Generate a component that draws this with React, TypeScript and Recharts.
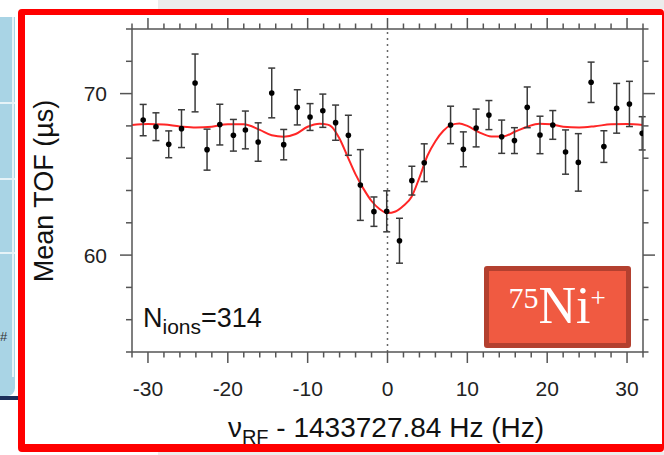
import React from 'react';
import { ComposedChart, Scatter, Line, XAxis, YAxis, ErrorBar, ReferenceLine } from 'recharts';

// measured points: frequency offset (Hz), mean TOF (us), error (us)
const freq = [-30.6, -29.0, -27.4, -25.8, -24.1, -22.6, -21.0, -19.3, -17.8, -16.2, -14.5, -13.0, -11.3, -9.7, -8.1, -6.5, -4.9, -3.4, -1.7, -0.1, 1.5, 3.05, 4.6, 7.9, 9.5, 11.1, 12.7, 14.3, 15.9, 17.5, 19.1, 20.7, 22.3, 23.9, 25.5, 27.1, 28.7, 30.3, 31.9];
const tof = [68.36, 67.95, 66.86, 67.83, 70.66, 66.53, 68.08, 67.42, 67.75, 67.0, 70.04, 66.84, 69.15, 68.55, 68.94, 68.2, 67.42, 64.34, 62.69, 62.71, 60.89, 64.61, 65.72, 68.06, 66.55, 67.87, 68.67, 67.33, 67.09, 69.15, 67.44, 68.06, 66.38, 65.74, 70.7, 66.72, 69.09, 69.36, 67.54];
const tofErr = [0.97, 0.86, 0.83, 1.17, 1.79, 1.27, 1.26, 0.98, 1.17, 1.19, 1.54, 0.94, 1.09, 0.83, 1.03, 1.09, 1.24, 2.19, 0.91, 1.27, 1.39, 0.89, 1.17, 1.16, 1.08, 1.17, 0.9, 1.03, 0.8, 1.26, 1.16, 0.89, 1.37, 1.78, 1.25, 0.98, 1.54, 1.4, 1.03];

// fitted resonance curve
const fitFreq = [-32, -30, -28, -26, -24, -22, -20, -18, -16, -14.5, -13, -11.5, -10, -8.5, -7.5, -7, -6, -5, -4, -3, -2, -1, 0, 1, 2, 3, 4, 5, 6, 7, 8, 9, 10, 11.5, 13, 14.5, 16, 17.5, 19, 20.5, 22, 24, 26, 28, 30, 32];
const fitTof = [68.06, 68.12, 68.08, 67.97, 67.9, 67.95, 68.1, 68.1, 67.75, 67.42, 67.33, 67.5, 67.95, 68.14, 68.08, 67.95, 67.2, 66.1, 65.0, 64.1, 63.35, 62.85, 62.6, 62.7, 63.05, 63.6, 64.8, 66.15, 67.05, 67.7, 68.06, 68.15, 68.0, 67.6, 67.35, 67.35, 67.65, 67.95, 68.14, 68.1, 67.95, 67.9, 67.98, 68.1, 68.12, 68.06];

const xTicks = [-32, -30, -28, -26, -24, -22, -20, -18, -16, -14, -12, -10, -8, -6, -4, -2, 0, 2, 4, 6, 8, 10, 12, 14, 16, 18, 20, 22, 24, 26, 28, 30, 32];
const yTicks = [54, 56, 58, 60, 62, 64, 66, 68, 70, 72, 74];
const xLabels = [-30, -20, -10, 0, 10, 20, 30];
const yLabels = [60, 70];

const points = freq.map((x, i) => ({ x, y: tof[i], err: tofErr[i] }));
const fit = fitFreq.map((x, i) => ({ x, y: fitTof[i] }));

const AXIS = '#555';
const FONT = '"Liberation Sans", Arial, sans-serif';

const BottomTick = ({ x, y, payload }: any) => {
  const major = payload.value % 10 === 0;
  return (
    <g>
      <line x1={x} x2={x} y1={y} y2={y + (major ? 11 : 5.5)} stroke={AXIS} strokeWidth={1.5} />
      {xLabels.includes(payload.value) && (
        <text x={x} y={y + 44} textAnchor="middle" fontSize={21} fill="#222" fontFamily={FONT}>
          {payload.value}
        </text>
      )}
    </g>
  );
};

const TopTick = ({ x, y, payload }: any) => {
  const major = payload.value % 10 === 0;
  return <line x1={x} x2={x} y1={y} y2={y - (major ? 11 : 5.5)} stroke={AXIS} strokeWidth={1.5} />;
};

const LeftTick = ({ x, y, payload }: any) => {
  const major = payload.value % 10 === 0;
  return (
    <g>
      <line x1={x} x2={x - (major ? 12 : 6)} y1={y} y2={y} stroke={AXIS} strokeWidth={1.5} />
      {yLabels.includes(payload.value) && (
        <text x={x - 25} y={y + 7.5} textAnchor="end" fontSize={21} fill="#222" fontFamily={FONT}>
          {payload.value}
        </text>
      )}
    </g>
  );
};

const RightTick = ({ x, y, payload }: any) => {
  const major = payload.value % 10 === 0;
  return <line x1={x} x2={x + (major ? 12 : 5.5)} y1={y} y2={y} stroke={AXIS} strokeWidth={1.5} />;
};

const Dot = (p: any) => <circle cx={p.cx} cy={p.cy} r={2.8} fill="#000" />;

const axisLine = { stroke: AXIS, strokeWidth: 1.5 };

export default function App() {
  return (
    <div style={{ position: 'relative', width: 664, height: 455, background: '#fff', overflow: 'hidden' }}>
      <style>{'body{margin:0}'}</style>

      {/* slide leftovers around the frame */}
      <div style={{ position: 'absolute', left: 158, top: 0, width: 506, height: 9, background: '#ececec' }} />
      <div style={{ position: 'absolute', left: 158, top: 452, width: 506, height: 3, background: '#ececec' }} />
      <div style={{ position: 'absolute', left: 0, top: 17, width: 15, height: 379, background: '#a9d4e5', borderBottomRightRadius: 8 }} />
      <div style={{ position: 'absolute', left: 12, top: 17, width: 2, height: 360, background: '#e6f3f8' }} />
      {[102, 178, 252].map(t => (
        <div key={t} style={{ position: 'absolute', left: 0, top: t, width: 15, height: 2, background: '#e6f3f8' }} />
      ))}
      <div style={{ position: 'absolute', left: 0, top: 329, fontSize: 13, fontFamily: FONT, color: '#333' }}>#</div>
      <div style={{ position: 'absolute', left: 0, top: 396, width: 24, height: 4, background: '#1d2f5a' }} />

      <div style={{ position: 'absolute', left: 0, top: 0 }}>
        <ComposedChart width={664} height={455} margin={{ top: 14, right: 6, bottom: 43, left: 32 }}>
          <XAxis xAxisId="b" type="number" dataKey="x" domain={[-32, 32]} ticks={xTicks} interval={0}
            tick={<BottomTick />} tickLine={false} tickSize={0} tickMargin={0} axisLine={axisLine} height={60} allowDataOverflow />
          <XAxis xAxisId="t" orientation="top" type="number" dataKey="x" domain={[-32, 32]} ticks={xTicks} interval={0}
            tick={<TopTick />} tickLine={false} tickSize={0} tickMargin={0} axisLine={axisLine} height={15} allowDataOverflow />
          <YAxis yAxisId="l" type="number" dataKey="y" domain={[54, 74]} ticks={yTicks} interval={0}
            tick={<LeftTick />} tickLine={false} tickSize={0} tickMargin={0} axisLine={axisLine} width={100} allowDataOverflow />
          <YAxis yAxisId="r" orientation="right" type="number" dataKey="y" domain={[54, 74]} ticks={yTicks} interval={0}
            tick={<RightTick />} tickLine={false} tickSize={0} tickMargin={0} axisLine={axisLine} width={15} allowDataOverflow />
          <ReferenceLine xAxisId="b" yAxisId="l" x={0} stroke="#666" strokeWidth={1.5} strokeDasharray="2 4" />
          <Line xAxisId="b" yAxisId="l" data={fit} dataKey="y" type="monotone" stroke="#ff2626" strokeWidth={2}
            dot={false} activeDot={false} isAnimationActive={false} />
          <Scatter xAxisId="b" yAxisId="l" data={points} dataKey="y" fill="#000" shape={Dot} isAnimationActive={false}>
            <ErrorBar dataKey="err" direction="y" width={3.5} stroke="#3a3a3a" strokeWidth={1.5} isAnimationActive={false} />
          </Scatter>
        </ComposedChart>
      </div>

      {/* isotope tag */}
      <div style={{ position: 'absolute', left: 484, top: 266, width: 147, height: 82, boxSizing: 'border-box',
        border: '5px solid #b3402f', background: '#f05a41', borderRadius: 3 }} />

      <svg width={664} height={455} style={{ position: 'absolute', left: 0, top: 0, pointerEvents: 'none' }}>
        <text transform="translate(53,191) rotate(-90)" textAnchor="middle" fontSize={27} fill="#111" fontFamily={FONT}>
          Mean TOF (µs)
        </text>
        <text x={386} y={437} textAnchor="middle" fontSize={28} fill="#111" fontFamily={FONT}>
          ν<tspan fontSize={20} dy={7}>RF</tspan><tspan dy={-7}> - 1433727.84 Hz (Hz)</tspan>
        </text>
        <text x={143} y={327} fontSize={27} fill="#111" fontFamily={FONT}>
          N<tspan fontSize={21} dy={7}>ions</tspan><tspan dy={-7}>=314</tspan>
        </text>
        <text x={557} y={323} textAnchor="middle" fill="#fff" fontFamily='"Liberation Serif", "Times New Roman", serif'>
          <tspan fontSize={30} dy={-15}>75</tspan><tspan fontSize={52} dy={15}>Ni</tspan><tspan fontSize={27} dy={-16}>+</tspan>
        </text>
      </svg>

      {/* red highlight frame */}
      <div style={{ position: 'absolute', left: 18, top: 9, width: 646, height: 443, boxSizing: 'border-box',
        borderStyle: 'solid', borderColor: '#ff0000', borderWidth: '6px 2px 8px 7px', borderRadius: 4 }} />
    </div>
  );
}
